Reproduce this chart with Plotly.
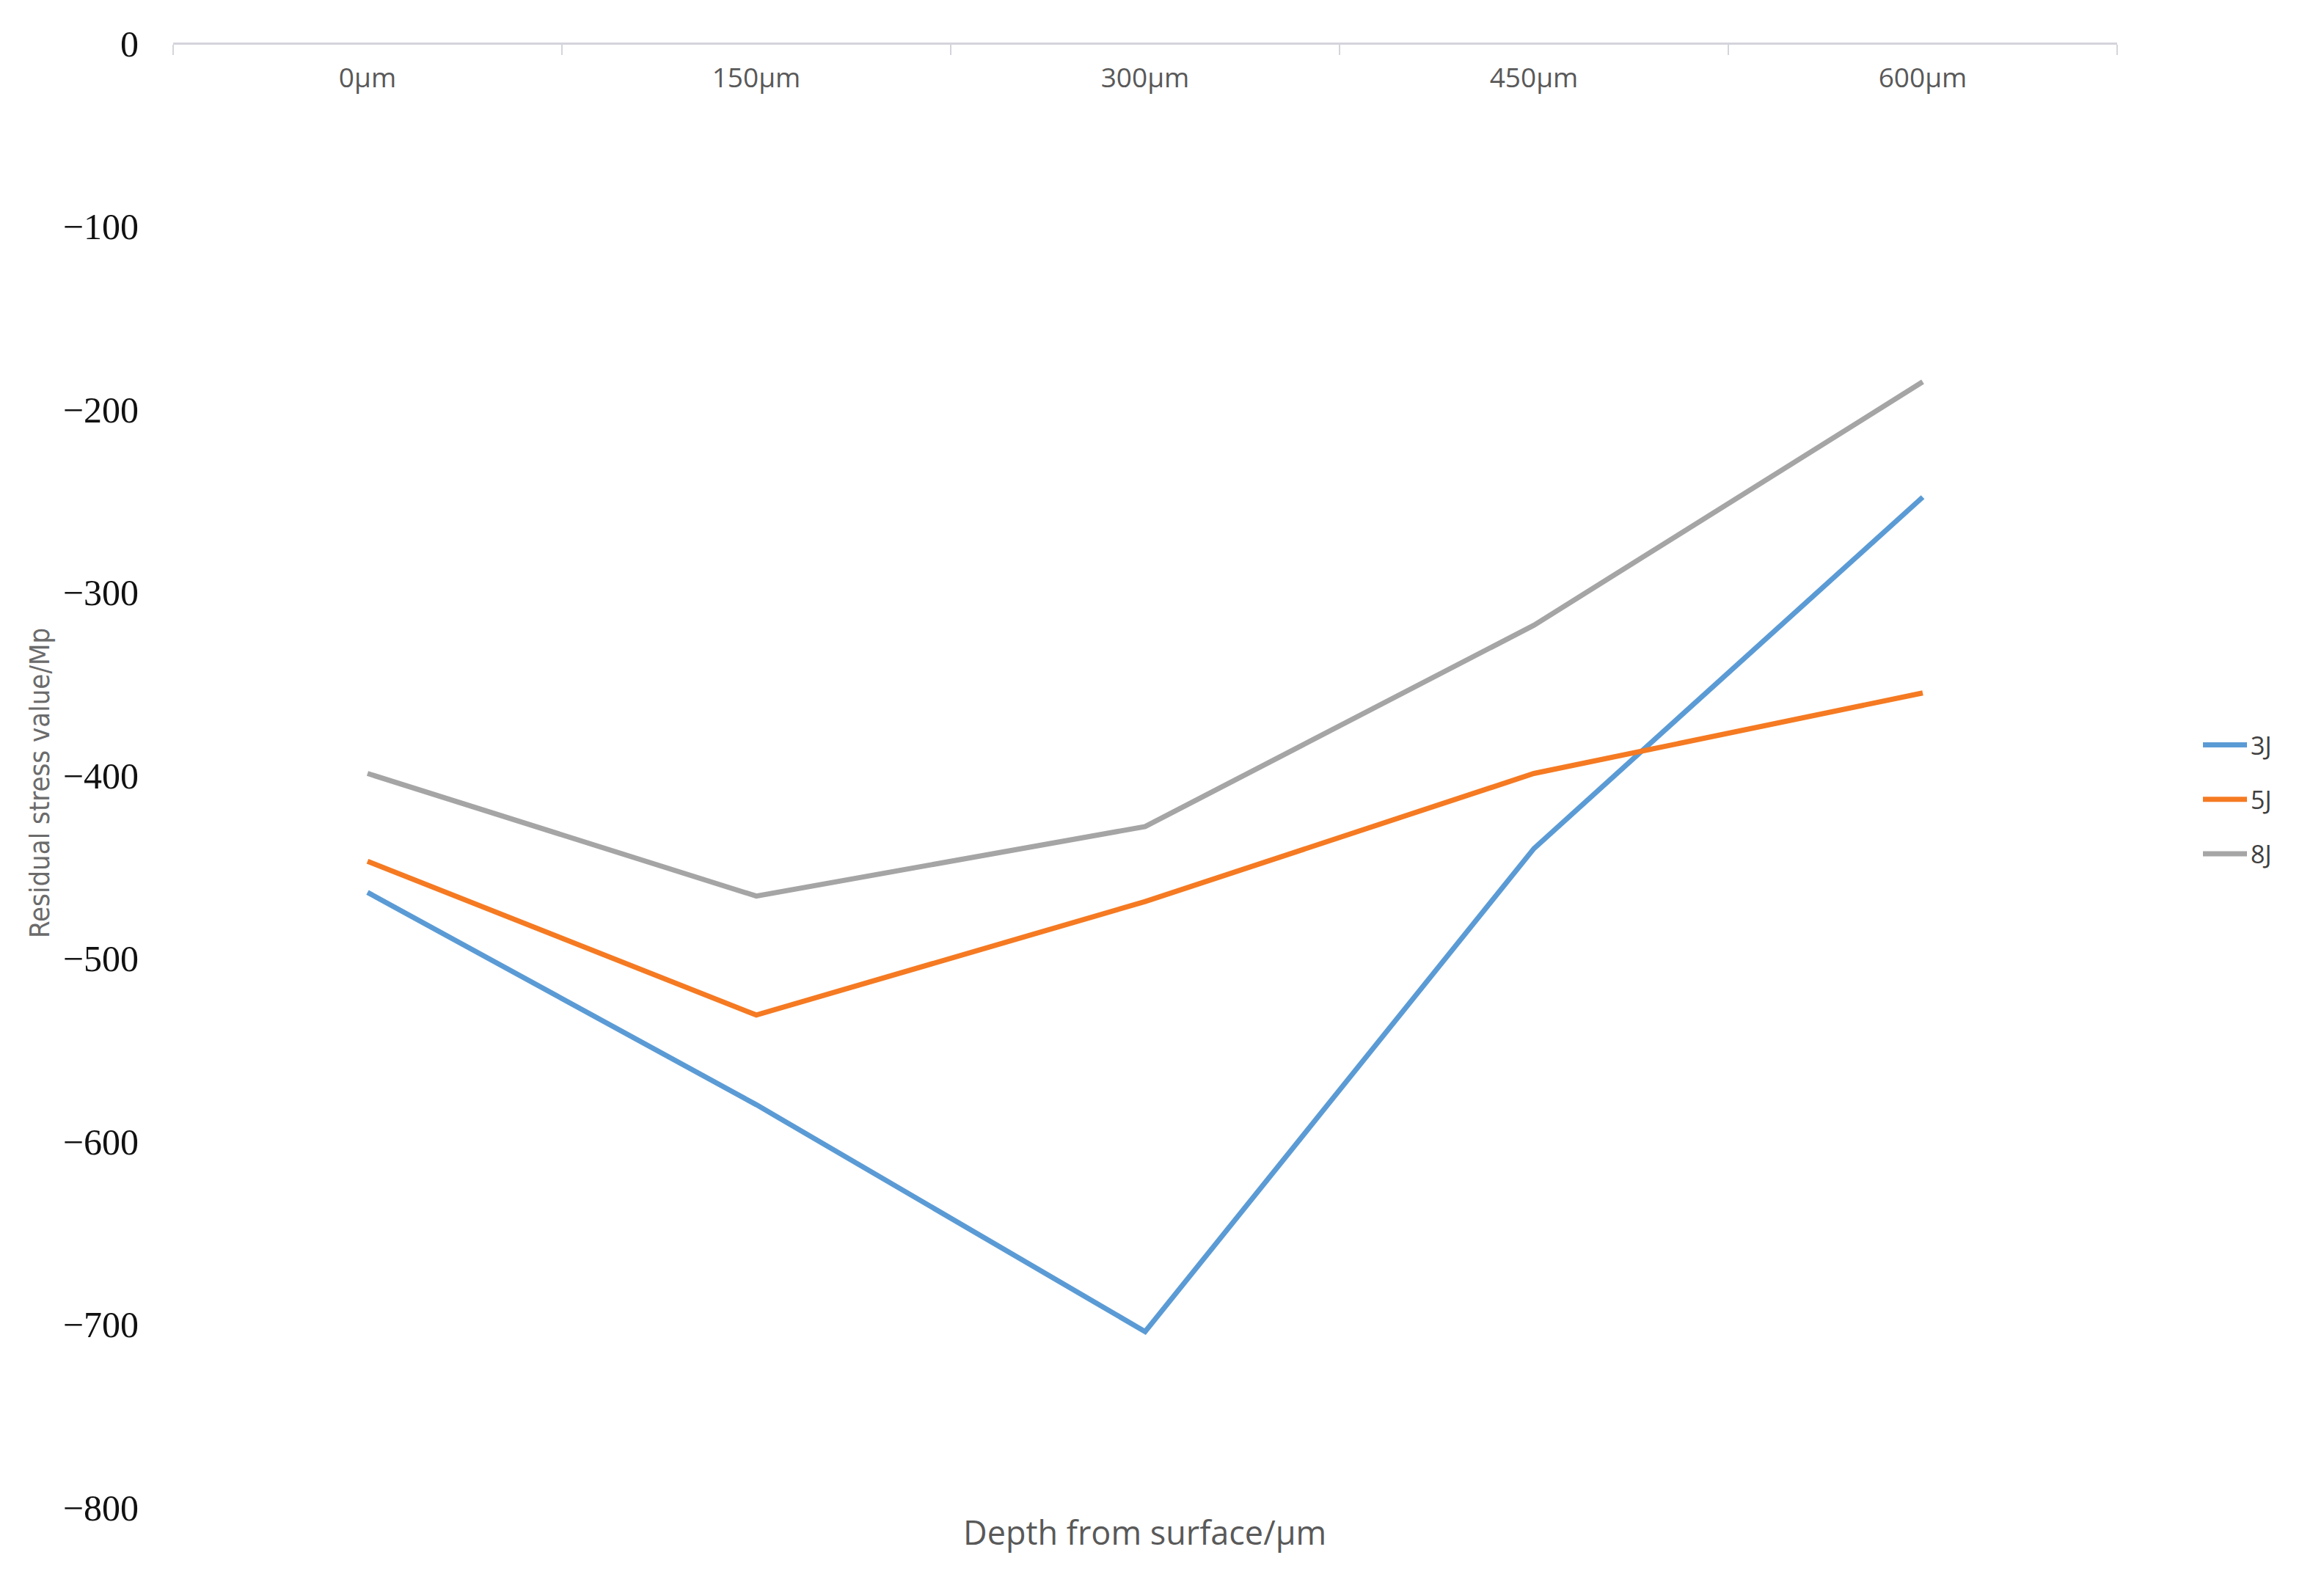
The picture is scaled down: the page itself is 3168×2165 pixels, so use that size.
import plotly.graph_objects as go

categories = ["0µm", "150µm", "300µm", "450µm", "600µm"]
series_names = ["3J", "5J", "8J"]
values_3j = [-464, -580, -704, -440, -248]
values_5j = [-447, -531, -469, -399, -355]
values_8j = [-399, -466, -428, -318, -185]
y_ticks = [0, -100, -200, -300, -400, -500, -600, -700, -800]

colors = ["#5B9BD5", "#F57A22", "#A5A5A5"]
series = [values_3j, values_5j, values_8j]

L, R, T, B = 228, 290, 51, 118
W, H = 3168, 2165
PW, PH = W - L - R, H - T - B

fig = go.Figure()
for name, vals, col in zip(series_names, series, colors):
    fig.add_trace(go.Scatter(
        x=categories, y=vals, name=name, mode="lines",
        line=dict(color=col, width=7), legendgroup=name,
    ))

fig.update_layout(
    width=W, height=H,
    paper_bgcolor="white", plot_bgcolor="white",
    margin=dict(l=L, r=R, t=T, b=B, autoexpand=False),
    showlegend=True,
    legend=dict(
        x=(2990 - L) / PW, xanchor="left", y=(H - B - 1082) / PH, yanchor="middle",
        font=dict(family="Open Sans, sans-serif", size=34, color="#404040"),
        tracegroupgap=27, itemwidth=60, bgcolor="rgba(0,0,0,0)",
    ),
    xaxis=dict(
        type="category", side="bottom", anchor="free", position=1,
        range=[-0.5, 4.5],
        showline=True, linecolor="#D4D4DC", linewidth=3,
        ticks="outside", ticklen=14, tickwidth=2, tickcolor="#D4D4DC",
        tickson="boundaries",
        ticklabelstandoff=14,
        tickfont=dict(family="Open Sans, sans-serif", size=37, color="#595959"),
        showgrid=False, zeroline=False,
    ),
    yaxis=dict(
        range=[-800, 0], tickvals=y_ticks,
        showline=False, ticks="", showgrid=False, zeroline=False,
        ticklabelstandoff=46,
        tickfont=dict(family="Liberation Serif, serif", size=50, color="#111111"),
    ),
    annotations=[
        dict(text="Depth from surface/µm", xref="paper", yref="paper",
             x=(1552 - L) / PW, y=-(2080 - (H - B)) / PH, xanchor="center", yanchor="middle",
             showarrow=False,
             font=dict(family="Open Sans, sans-serif", size=45, color="#595959")),
        dict(text="Residual stress value/Mp", xref="paper", yref="paper",
             x=-(L - 46) / PW, y=(H - B - 1060) / PH, xanchor="center", yanchor="middle",
             textangle=-90, showarrow=False,
             font=dict(family="Liberation Sans Narrow, DejaVu Sans Condensed, Roboto Condensed, sans-serif", size=38, color="#6B6B6B")),
    ],
)

fig.write_html("out.html")
